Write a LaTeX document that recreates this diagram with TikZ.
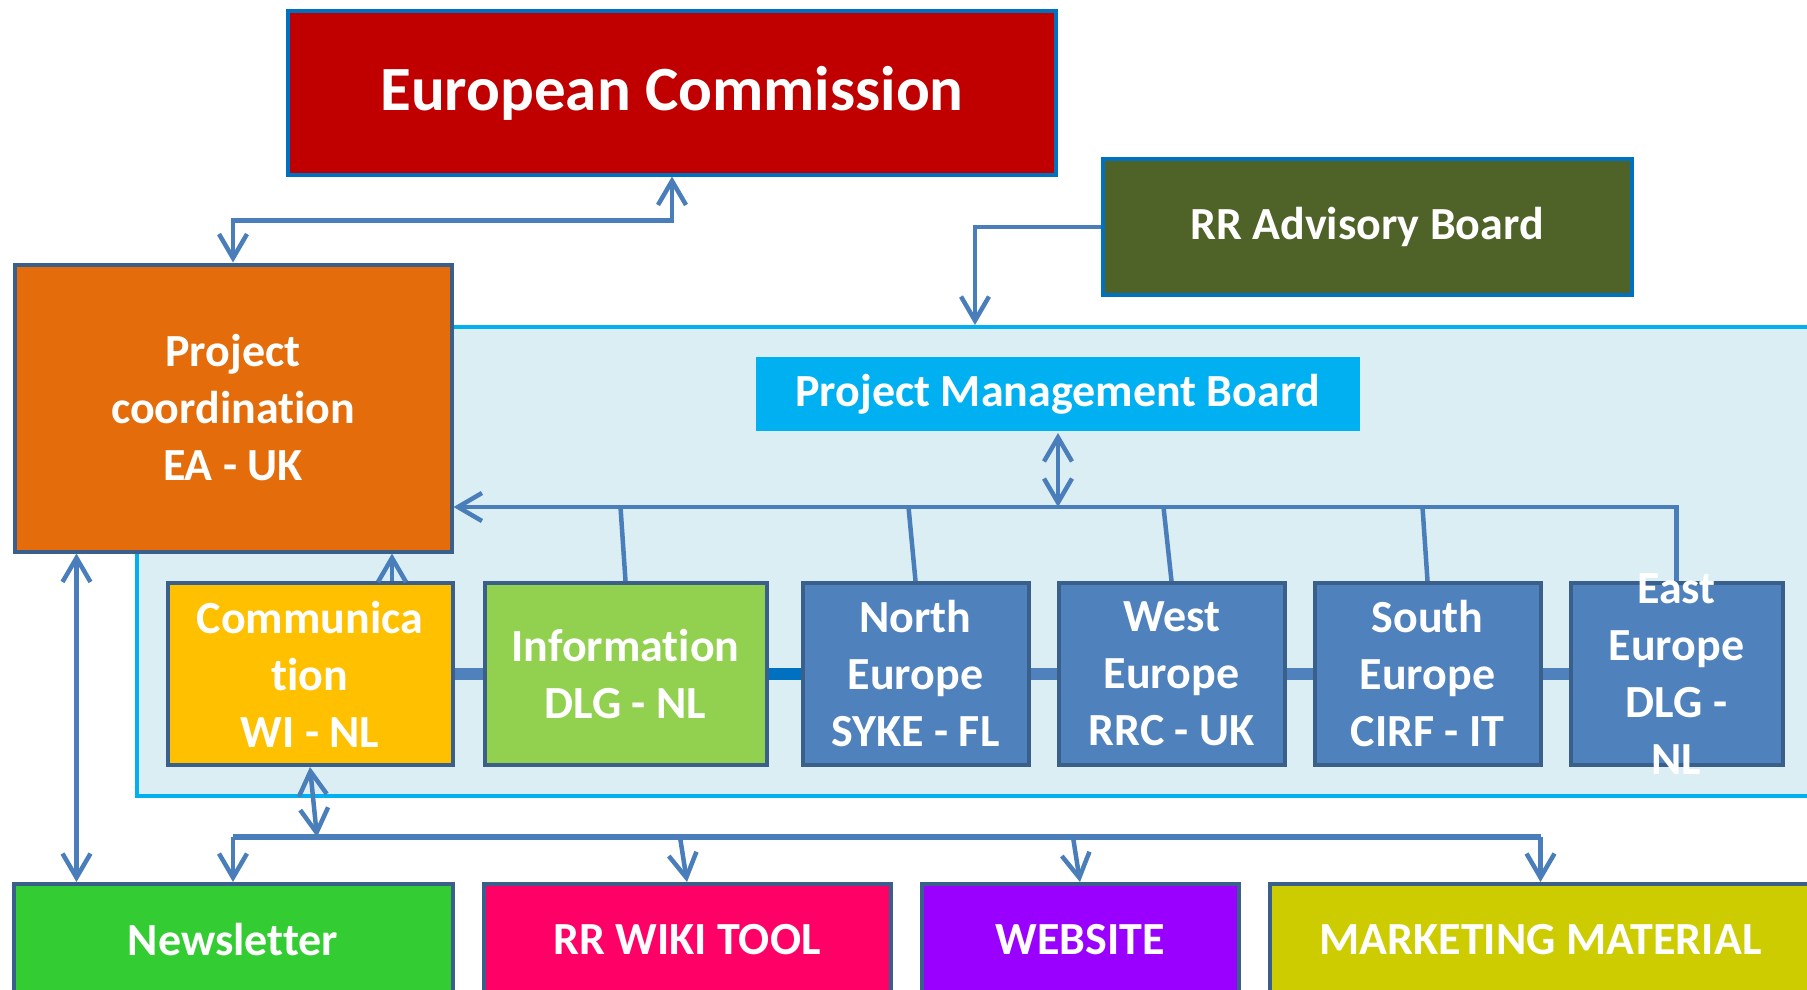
\documentclass[tikz,border=0pt]{standalone}
\usepackage{fontspec}
\setmainfont{Carlito}[Ligatures=NoCommon]
\usetikzlibrary{arrows.meta,positioning,calc}
\definecolor{ecred}{HTML}{C00000}
\definecolor{ecline}{HTML}{0070C0}
\definecolor{advgreen}{HTML}{4F6228}
\definecolor{pcorange}{HTML}{E46C0A}
\definecolor{boxline}{HTML}{3A5F8B}
\definecolor{panelfill}{HTML}{DBEEF4}
\definecolor{panelline}{HTML}{00B0F0}
\definecolor{pmbblue}{HTML}{00B0F0}
\definecolor{commyellow}{HTML}{FFC000}
\definecolor{infogreen}{HTML}{92D050}
\definecolor{regionblue}{HTML}{4F81BD}
\definecolor{linkblue}{HTML}{4A7EBB}
\definecolor{newsgreen}{HTML}{33CC33}
\definecolor{wikipink}{HTML}{FF0066}
\definecolor{webpurple}{HTML}{9900FF}
\definecolor{mktyellow}{HTML}{CCCC00}

\begin{document}
\begin{tikzpicture}[x=1pt,y=-1pt,>={Straight Barb[length=24pt,width=28pt]},
    box/.style={draw=boxline,line width=4pt,text=white,align=center,inner sep=0pt,
      font=\bfseries\fontsize{46}{57}\selectfont},
    region/.style={box,fill=regionblue,minimum width=226pt,minimum height=182pt},
    outlet/.style={box,minimum height=112pt},
    link/.style={draw=linkblue,line width=4.5pt},
    bar/.style={draw=regionblue,line width=12pt}]

  \useasboundingbox (0,0) rectangle (1807,990);
  \clip (0,0) rectangle (1807,990);

  % light blue area of the project partners
  \node[draw=panelline,fill=panelfill,line width=4pt,minimum width=1700pt,
    minimum height=469pt,anchor=north west] (panel) at (135,325) {};

  \node[box,fill=ecred,draw=ecline,minimum width=768pt,minimum height=163pt,
    font=\bfseries\fontsize{63}{76}\selectfont] (ec) at (672,93) {European Commission};
  \node[box,fill=advgreen,draw=ecline,minimum width=529pt,minimum height=136pt] (adv) at (1367,227) {RR Advisory Board};
  \node[box,fill=pcorange,minimum width=437pt,minimum height=287pt] (pc) at (233,408) {Project\\coordination\\EA - UK};
  \node[box,draw=none,fill=pmbblue,minimum width=604pt,minimum height=74pt] (pmb) at (1058,394) {Project Management Board};

  \node[box,fill=commyellow,minimum width=285pt,minimum height=182pt] (comm) at (310,674) {Communica\\tion\\WI - NL};
  \node[box,fill=infogreen,minimum width=282pt,minimum height=182pt] (info) [right=28pt of comm] {Information\\DLG - NL};
  \node[region] (north) [right=32pt of info] {North\\Europe\\SYKE - FL};
  \node[region] (west) [right=26pt of north] {West\\Europe\\RRC - UK};
  \node[region] (south) [right=26pt of west] {South\\Europe\\CIRF - IT};
  \node[region,minimum width=212pt] (east) [right=26pt of south] {};
  \node[text=white,align=center,inner sep=0pt,font=\bfseries\fontsize{46}{57}\selectfont] (eastlbl) at (east) {East\\Europe\\DLG -\\NL};

  \node[outlet,fill=newsgreen,minimum width=439pt] (news) at (233,940) {Newsletter};
  \node[outlet,fill=wikipink,minimum width=407pt] (wiki) [right=27pt of news] {RR WIKI TOOL};
  \node[outlet,fill=webpurple,minimum width=317pt] (web) [right=27pt of wiki] {WEBSITE};
  \node[outlet,fill=mktyellow,minimum width=542pt] (mkt) [right=27pt of web] {MARKETING MATERIAL};

  \coordinate (advin) at (975,325);
  \coordinate (busR) at (east.north |- 0,507);
  \coordinate (lbL) at (news.north |- 0,837);
  \coordinate (lbR) at (mkt.north |- lbL);

  % links between the partners
  \draw[bar] (comm.east) -- (info.west);
  \draw[bar,draw=ecline] (info.east) -- (north.west);
  \draw[bar] (north.east) -- (west.west) (west.east) -- (south.west) (south.east) -- (east.west);

  \draw[link,<->] (ec.south) -- ++(0,44) -| (pc.north);
  \draw[link,->] (adv.west) -| (advin);
  \draw[link,->] (east.north) -- (busR) -- (pc.east |- busR);
  \draw[link,<->] (pmb.south) -- (pmb.south |- busR);
  \foreach \b/\d in {info/-5,north/-7,west/-8,south/-5}
    \draw[link] (\b.north) -- ++(\d,-74);
  \draw[link,->] ([xshift=82pt]comm.north) -- ([xshift=82pt]comm.north |- pc.south);
  \draw[link,<->] ([xshift=64pt]pc.south west) -- ([xshift=64pt]pc.south west |- news.north);

  \draw[link,<->] (comm.south) -- ($(comm.south |- lbL)+(7,0)$);
  \draw[link,line width=5.5pt] (lbL) -- (lbR);
  \draw[link,->] (lbL) -- (news.north);
  \draw[link,->] ($(wiki.north |- lbL)+(-7,0)$) -- (wiki.north);
  \draw[link,->] ($(web.north |- lbL)+(-7,0)$) -- (web.north);
  \draw[link,->] (lbR) -- (mkt.north);

\end{tikzpicture}
\end{document}
